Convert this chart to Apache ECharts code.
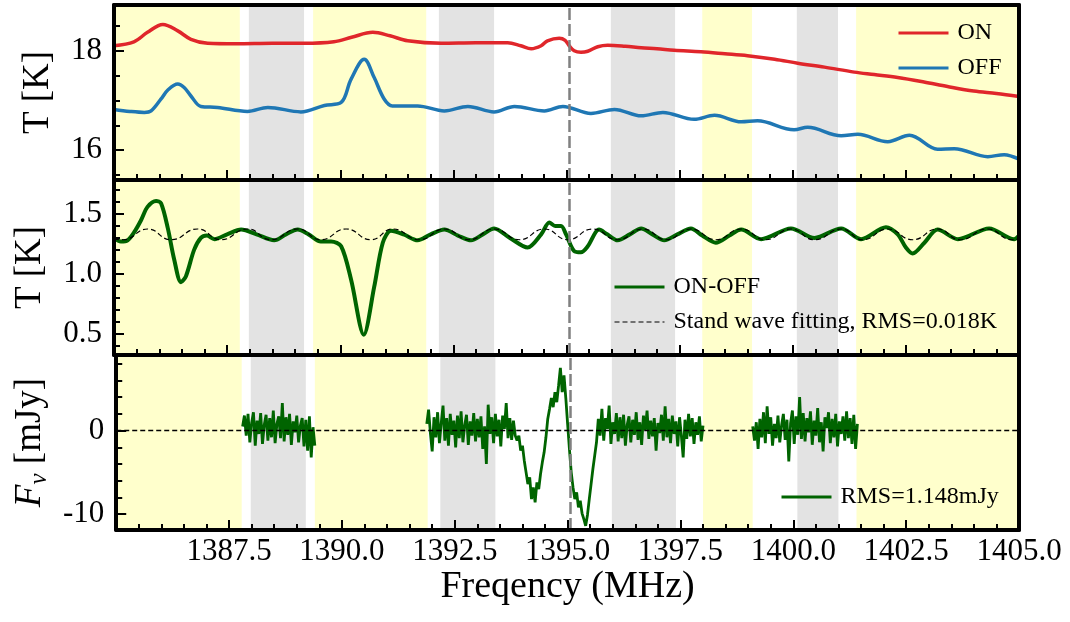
<!DOCTYPE html>
<html>
<head>
<meta charset="utf-8">
<script src="https://cdn.jsdelivr.net/npm/echarts@6/dist/echarts.min.js"></script>
<style>
html,body{margin:0;padding:0;background:#fff}
#chart{width:1070px;height:622px}
</style>
</head>
<body>
<div id="chart"></div>
<script>
// ---- ON / OFF total power spectra (K) ----
const onFreq = [1385.00,1385.44,1385.74,1386.08,1386.41,1386.70,1387.07,1387.70,1388.50,1389.20,1389.86,1390.25,1390.72,1391.10,1391.49,1392.23,1393.00,1393.70,1393.99,1394.22,1394.44,1394.58,1394.84,1394.97,1395.06,1395.17,1395.32,1395.47,1395.69,1395.91,1396.30,1396.65,1397.00,1397.38,1397.97,1398.50,1399.00,1399.60,1400.11,1400.70,1401.36,1401.80,1402.32,1402.90,1403.42,1404.00,1404.50,1405.00];
const onTemp = [18.10,18.18,18.37,18.53,18.40,18.23,18.15,18.14,18.15,18.15,18.18,18.27,18.37,18.30,18.20,18.15,18.16,18.16,18.10,18.04,18.10,18.20,18.25,18.21,18.10,18.00,17.97,17.99,18.08,18.11,18.09,18.06,18.04,18.01,17.98,17.94,17.90,17.83,17.75,17.67,17.57,17.52,17.46,17.37,17.28,17.19,17.14,17.08];

const offFreq = [1385.00,1385.35,1385.67,1385.82,1386.04,1386.19,1386.41,1386.55,1386.70,1386.92,1387.29,1387.95,1388.40,1389.13,1389.65,1390.02,1390.24,1390.53,1390.75,1390.97,1391.15,1391.71,1392.30,1392.82,1393.40,1393.85,1394.51,1394.92,1395.54,1396.06,1396.65,1397.13,1397.82,1398.27,1398.86,1399.22,1400.03,1400.33,1401.07,1401.44,1402.10,1402.58,1403.20,1403.57,1404.31,1404.67,1405.00];
const offTemp = [16.82,16.78,16.76,16.79,17.03,17.21,17.33,17.26,17.09,16.88,16.86,16.78,16.86,16.77,16.90,16.96,17.43,17.83,17.46,17.03,16.89,16.89,16.79,16.88,16.77,16.88,16.79,16.88,16.74,16.82,16.69,16.76,16.62,16.70,16.57,16.59,16.41,16.46,16.29,16.32,16.17,16.30,16.02,16.03,15.87,15.91,15.82];

// ---- ON-OFF difference (K) and standing-wave fit ----
const diffFreq = [1385.00,1385.15,1385.30,1385.45,1385.60,1385.74,1385.93,1386.04,1386.19,1386.33,1386.48,1386.59,1386.77,1386.92,1387.05,1387.22,1387.50,1387.81,1388.15,1388.54,1388.80,1389.06,1389.30,1389.57,1389.80,1390.02,1390.24,1390.52,1390.75,1390.94,1391.12,1391.40,1391.71,1392.00,1392.30,1392.60,1392.89,1393.15,1393.40,1393.75,1394.14,1394.44,1394.62,1394.75,1394.88,1394.99,1395.17,1395.32,1395.47,1395.72,1395.90,1396.13,1396.40,1396.65,1396.90,1397.16,1397.45,1397.75,1398.00,1398.30,1398.60,1398.86,1399.30,1399.96,1400.48,1401.07,1401.51,1402.06,1402.32,1402.50,1402.65,1402.91,1403.20,1403.65,1404.34,1404.89,1405.00];
const diffTemp = [1.30,1.27,1.28,1.35,1.45,1.56,1.61,1.59,1.38,1.12,0.93,0.98,1.20,1.30,1.32,1.29,1.33,1.37,1.33,1.28,1.33,1.37,1.33,1.27,1.27,1.23,0.95,0.49,0.89,1.26,1.36,1.33,1.28,1.33,1.37,1.32,1.28,1.33,1.38,1.30,1.22,1.33,1.43,1.40,1.40,1.33,1.19,1.18,1.23,1.37,1.33,1.28,1.33,1.38,1.33,1.28,1.33,1.38,1.32,1.26,1.32,1.37,1.29,1.38,1.30,1.38,1.29,1.39,1.33,1.22,1.17,1.26,1.37,1.29,1.38,1.29,1.32];

const fitFreq = [1385.00,1385.20,1385.74,1386.26,1386.85,1387.36,1387.95,1388.47,1389.06,1389.57,1390.13,1390.68,1391.16,1391.75,1392.30,1392.85,1393.40,1393.96,1394.51,1395.03,1395.58,1396.13,1396.69,1397.20,1397.75,1398.30,1398.86,1399.40,1399.96,1400.48,1401.07,1401.55,1402.10,1402.65,1403.20,1403.70,1404.30,1404.85,1405.00];
const fitTemp = [1.29,1.285,1.375,1.285,1.375,1.285,1.375,1.285,1.375,1.285,1.375,1.285,1.375,1.285,1.375,1.285,1.375,1.285,1.375,1.285,1.375,1.285,1.375,1.285,1.375,1.285,1.375,1.285,1.375,1.285,1.375,1.285,1.375,1.285,1.375,1.285,1.375,1.285,1.29];

// ---- Flux density (mJy), three usable windows, 0.04 MHz channels ----
const fluxStep = 0.04;
const flux1Start = 1387.80;
const flux1 = [0.5,1.8,-0.6,2.0,-1.4,0.9,2.2,-1.8,1.2,-0.4,2.1,-1.6,0.7,1.9,-1.2,1.5,-0.8,2.4,-1.5,0.8,1.7,-0.9,3.3,-1.3,1.6,-0.5,2.0,-1.7,1.1,-0.2,1.8,-1.4,0.6,1.5,-1.9,1.3,-2.4,1.7,-3.2,0.4,-1.8];
const flux2Start = 1391.88;
const flux2 = [0.8,2.5,-0.3,-2.5,1.6,-0.8,2.2,-1.5,0.9,3.0,-1.2,1.5,-1.8,2.0,-0.5,1.2,-2.0,1.8,-0.9,2.3,-1.4,0.6,1.9,-1.7,1.1,-0.6,2.1,-1.3,1.4,-0.8,1.7,-2.2,0.5,-4.0,3.1,-0.4,1.6,-1.5,2.0,-0.7,1.3,-1.9,1.8,0.2,3.3,-0.9,1.5,-1.1,1.2,-0.6,
  -1.2,-0.6,-2.4,-1.8,-3.6,-5.0,-6.4,-5.6,-8.2,-6.8,-8.6,-6.2,-7.0,-5.2,-3.8,-2.6,-0.8,1.4,2.6,3.9,2.8,4.6,3.4,5.4,7.5,4.6,6.6,3.9,0.8,-2.2,-5.0,-6.8,-8.2,-7.4,-9.2,-8.4,-9.9,-10.6,-11.4,-10.1,-8.2,-6.4,-4.6,-3.0,-1.4,
  1.4,-0.6,2.6,-1.2,1.5,0.2,3.0,-1.6,1.0,-0.4,2.1,-1.3,1.6,-0.9,1.9,-1.8,0.7,1.7,-1.4,1.3,-0.5,2.2,-1.1,1.0,-1.7,1.8,0.1,2.4,-1.0,1.2,-0.7,1.5,-2.4,0.9,-0.3,1.9,-1.2,2.9,-0.8,1.4,-1.5,1.8,-0.4,1.1,-1.9,1.6,-0.6,-3.2,1.3,-1.0,2.0,-0.7,1.5,-1.6,1.0,-0.5,1.7,-1.3,0.6];
const flux3Start = 1399.10;
const flux3 = [0.5,-1.2,1.0,-2.2,1.4,-0.8,2.2,-1.5,2.9,-0.4,1.6,-1.8,0.8,-0.9,1.8,-1.4,0.6,2.0,-1.1,1.3,-3.7,0.9,2.4,-1.6,1.7,-0.5,4.0,-1.0,2.1,-1.3,1.5,-0.2,2.3,-1.7,1.2,-0.6,2.7,-1.4,1.0,-2.5,1.6,0.3,2.2,-1.5,1.4,-0.8,2.0,-1.9,1.1,-0.4,1.7,-1.2,2.3,-0.9,1.5,-1.6,1.9,-2.2,0.8];

// ---- Shaded frequency windows (MHz) and reference line ----
const yellowBands = [[1385.00,1387.78],[1389.40,1391.90],[1398.00,1399.10],[1401.40,1405.00]];
const grayBands = [[1387.98,1389.20],[1392.18,1393.40],[1395.98,1397.40],[1400.09,1401.00]];
const lineFreq = 1395.05;

// ---- Axis ranges and ticks ----
const freqMin = 1385, freqMax = 1405, freqInterval = 2.5;
const panelRanges = [[15.4, 18.92], [0.32, 1.785], [-11.9, 9.05]];
const majorTicks = [[16, 18], [0.5, 1.0, 1.5], [-10, 0]];
const minorTicks = [[15.5, 16.5, 17, 17.5, 18.5], [0.4, 0.6, 0.7, 0.8, 0.9, 1.1, 1.2, 1.3, 1.4, 1.6, 1.7], [-8, -6, -4, -2, 2, 4, 6, 8]];
const labelDigits = [0, 1, 0];

const FONT = "'Liberation Serif','Times New Roman',serif";
const pair = (xs, ys) => xs.map((x, i) => [x, ys[i]]);
const channels = (start, vals) => vals.map((v, i) => [+(start + i * fluxStep).toFixed(2), v]);

const chart = echarts.init(document.getElementById('chart'), null, { renderer: 'canvas' });

const gridTops = [5, 180, 355];
const grid = gridTops.map(t => ({ left: 114, right: 51, top: t, height: 175 }));

const xAxis = [];
const yAxis = [];
const frameLine = { show: true, onZero: false, lineStyle: { color: '#000', width: 4 } };
gridTops.forEach((t, g) => {
  const last = g === gridTops.length - 1;
  xAxis.push({
    type: 'value', gridIndex: g, min: freqMin, max: freqMax, interval: freqInterval, position: 'bottom', z: 10,
    axisLine: frameLine,
    axisTick: { show: true, inside: true, length: 10, lineStyle: { color: '#000', width: 2 } },
    minorTick: { show: true, splitNumber: 5, length: 6, lineStyle: { color: '#000', width: 2 } },
    splitLine: { show: false }, minorSplitLine: { show: false },
    axisLabel: {
      show: last, margin: 6, showMinLabel: false, showMaxLabel: true, hideOverlap: false,
      fontFamily: FONT, fontSize: 31, color: '#000',
      formatter: v => v.toFixed(1)
    },
    name: last ? 'Freqency (MHz)' : '', nameLocation: 'middle', nameGap: 37,
    nameTextStyle: { fontFamily: FONT, fontSize: 38, color: '#000' }
  });
  xAxis.push({
    type: 'value', gridIndex: g, min: freqMin, max: freqMax, position: 'top', z: 10,
    axisLine: frameLine, axisTick: { show: false }, axisLabel: { show: false }, splitLine: { show: false }
  });
  const [lo, hi] = panelRanges[g];
  const names = ['T [K]', 'T [K]', '{i|F}{s|ν} [mJy]'];
  const gaps = [54, 62, 64];
  yAxis.push({
    type: 'value', gridIndex: g, min: lo, max: hi, position: 'left', z: 10,
    axisLine: frameLine,
    axisTick: { show: true, inside: true, length: 10, customValues: majorTicks[g], lineStyle: { color: '#000', width: 2 } },
    axisLabel: {
      show: true, margin: 12, customValues: majorTicks[g], fontFamily: FONT, fontSize: 31, color: '#000',
      formatter: v => v.toFixed(labelDigits[g])
    },
    splitLine: { show: false },
    name: names[g], nameLocation: 'middle', nameGap: gaps[g],
    nameTextStyle: {
      fontFamily: FONT, fontSize: 37, color: '#000', lineHeight: 44,
      rich: {
        i: { fontFamily: FONT, fontSize: 37, fontStyle: 'italic', color: '#000', lineHeight: 44 },
        s: { fontFamily: FONT, fontSize: 25, fontStyle: 'italic', color: '#000', verticalAlign: 'bottom', lineHeight: 25 }
      }
    }
  });
  yAxis.push({
    type: 'value', gridIndex: g, min: lo, max: hi, position: 'left', z: 10,
    axisLine: { show: false },
    axisTick: { show: true, inside: true, length: 6, customValues: minorTicks[g], lineStyle: { color: '#000', width: 2 } },
    axisLabel: { show: false }, splitLine: { show: false }
  });
  yAxis.push({
    type: 'value', gridIndex: g, min: lo, max: hi, position: 'right', z: 10,
    axisLine: frameLine, axisTick: { show: false }, axisLabel: { show: false }, splitLine: { show: false }
  });
});

// background windows + dashed reference line for each panel
const bandArea = [
  ...yellowBands.map(b => [{ xAxis: b[0], itemStyle: { color: '#FFFFCC' } }, { xAxis: b[1] }]),
  ...grayBands.map(b => [{ xAxis: b[0], itemStyle: { color: '#E3E3E3' } }, { xAxis: b[1] }])
];
const bandSeries = gridTops.map((t, g) => ({
  type: 'line', name: 'bands' + g, xAxisIndex: 2 * g, yAxisIndex: 3 * g, data: [], z: 1, silent: true,
  markArea: { silent: true, data: bandArea },
  markLine: {
    silent: true, symbol: ['none', 'none'], label: { show: false },
    lineStyle: { color: '#808080', width: 2.5, type: [12, 4] },
    data: g === 2 ? [{ xAxis: lineFreq }, { yAxis: 0, lineStyle: { color: '#000', width: 1.3, type: [5, 3] } }] : [{ xAxis: lineFreq }]
  }
}));

const lineBase = { type: 'line', showSymbol: false, symbol: 'none', z: 3, silent: true };
const series = [
  ...bandSeries,
  { ...lineBase, name: 'ON', xAxisIndex: 0, yAxisIndex: 0, smooth: 0.35, data: pair(onFreq, onTemp), lineStyle: { color: '#E0262B', width: 3.5 }, itemStyle: { color: '#E0262B' } },
  { ...lineBase, name: 'OFF', xAxisIndex: 0, yAxisIndex: 0, smooth: 0.35, data: pair(offFreq, offTemp), lineStyle: { color: '#1F77B4', width: 3.5 }, itemStyle: { color: '#1F77B4' } },
  { ...lineBase, name: 'ON-OFF', xAxisIndex: 2, yAxisIndex: 3, smooth: 0.3, data: pair(diffFreq, diffTemp), lineStyle: { color: '#006400', width: 4 }, itemStyle: { color: '#006400' } },
  { ...lineBase, name: 'Stand wave fitting, RMS=0.018K', xAxisIndex: 2, yAxisIndex: 3, smooth: 0.5, z: 4, data: pair(fitFreq, fitTemp), lineStyle: { color: '#000', width: 1.2, type: [5, 3] }, itemStyle: { color: '#000' } },
  { ...lineBase, name: 'RMS=1.148mJy', xAxisIndex: 4, yAxisIndex: 6, data: channels(flux1Start, flux1), lineStyle: { color: '#006400', width: 2.8 }, itemStyle: { color: '#006400' } },
  { ...lineBase, name: 'RMS=1.148mJy', xAxisIndex: 4, yAxisIndex: 6, data: channels(flux2Start, flux2), lineStyle: { color: '#006400', width: 2.8 }, itemStyle: { color: '#006400' } },
  { ...lineBase, name: 'RMS=1.148mJy', xAxisIndex: 4, yAxisIndex: 6, data: channels(flux3Start, flux3), lineStyle: { color: '#006400', width: 2.8 }, itemStyle: { color: '#006400' } }
];

// legend entries show only the line sample, no marker dot
const legendBase = {
  orient: 'vertical', padding: 0, itemWidth: 50, itemHeight: 14, itemGap: 11, selectedMode: false,
  itemStyle: { opacity: 0, borderWidth: 0 },
  textStyle: { fontFamily: FONT, fontSize: 24, color: '#000', padding: [0, 0, 0, 4] }
};
const solidEntry = name => ({ name, lineStyle: { width: 3 } });

chart.setOption({
  animation: false,
  backgroundColor: '#fff',
  textStyle: { fontFamily: FONT },
  grid, xAxis, yAxis, series,
  legend: [
    { ...legendBase, left: 897, top: 21, data: [solidEntry('ON'), solidEntry('OFF')] },
    { ...legendBase, left: 613, top: 275, data: [solidEntry('ON-OFF'), { name: 'Stand wave fitting, RMS=0.018K', lineStyle: { width: 1.2 } }] },
    { ...legendBase, left: 780, top: 485, data: [solidEntry('RMS=1.148mJy')] }
  ]
});
</script>
</body>
</html>
